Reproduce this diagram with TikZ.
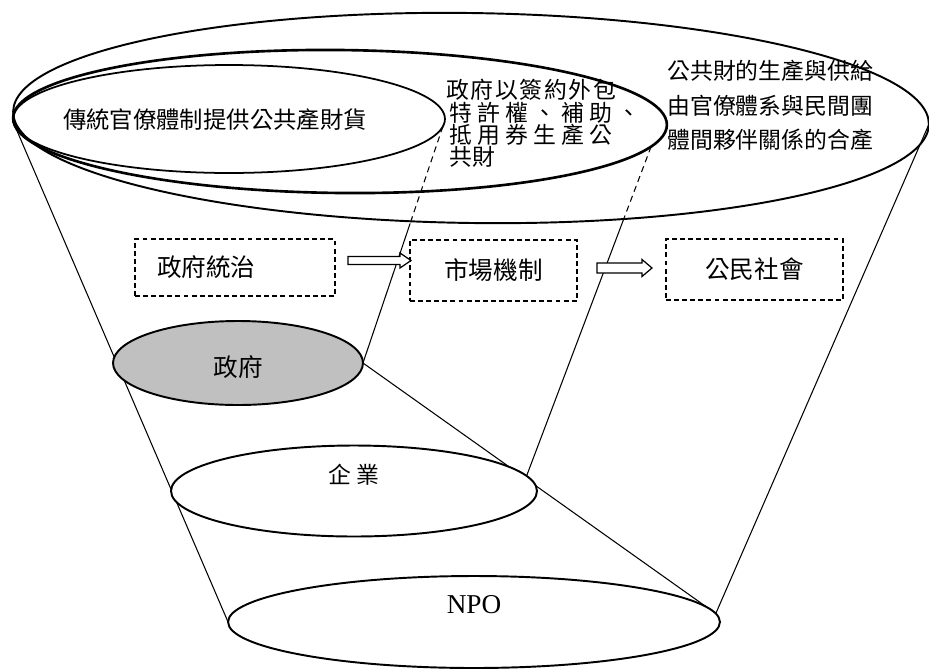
\documentclass[tikz,border=0pt]{standalone}
\usepackage{fontspec}
\setmainfont{Liberation Serif}
\newfontfamily\cjk{Noto Sans CJK TC}
\usetikzlibrary{shapes.geometric,calc,backgrounds}
\definecolor{govgray}{HTML}{C0C0C0}
\newcommand\hollowarrow[5]{%
  \draw[harrow] ($(#1)+(0,-#3)$) -- ($(#2)+(-#5,-#3)$) -- ($(#2)+(-#5,-#4)$) -- (#2)
    -- ($(#2)+(-#5,#4)$) -- ($(#2)+(-#5,#3)$) -- ($(#1)+(0,#3)$) -- cycle;}
\begin{document}
\begin{tikzpicture}[x=0.02cm,y=-0.02cm,
  ell/.style={ellipse, draw, line width=1.1pt, inner sep=0pt, outer sep=0pt},
  conn/.style={line width=0.6pt},
  dconn/.style={line width=0.6pt, dash pattern=on 3.5pt off 2.5pt},
  dbox/.style={draw, line width=0.7pt, dash pattern=on 2.8pt off 1.8pt, inner sep=0pt,
    font=\cjk\fontsize{14}{16}\selectfont},
  harrow/.style={draw, line width=0.7pt, fill=white},
  lbl/.style={font=\cjk\fontsize{13.3}{16}\selectfont, inner sep=0pt},
  lblb/.style={font=\cjk\fontsize{13}{15}\selectfont, inner sep=0pt, anchor=west},
]
\useasboundingbox (0,0) rectangle (929,670);

% upper ellipses (not filled)
\node[ell, rotate=-0.8, minimum width=18.32cm, minimum height=4.2cm] (outer) at (471,118) {};
\node[ell, line width=1.5pt, rotate=-0.6, minimum width=13.08cm, minimum height=2.86cm] (mid) at (340,121.5) {};
\node[ell, line width=1pt, minimum width=8.64cm, minimum height=2.16cm] (inner) at (229,119) {};

% lower ellipses (filled)
\node[ell, fill=govgray, minimum width=5cm, minimum height=1.68cm] (gov) at (238,363) {};
\node[ell, fill=white, minimum width=7.32cm, minimum height=1.82cm] (ent) at (354,491) {};
\node[ell, fill=white, minimum width=9.84cm, minimum height=1.84cm] (npo) at (474,622) {};

% connectors behind the ellipses
\begin{scope}[on background layer]
  \draw[conn] (inner.182) -- (npo.west);
  \coordinate (d1m) at ($(inner.-2)!0.41!(gov.east)$);
  \draw[dconn] (inner.-2) -- (d1m);
  \draw[conn] (d1m) -- (gov.east);
  \coordinate (d2m) at ($(mid.-4)!0.215!(ent.5)$);
  \draw[dconn] (mid.-4) -- (d2m);
  \draw[conn] (d2m) -- (ent.5);
  \draw[conn] (gov.east) -- (npo.2);
  \draw[conn] (outer.east) -- (npo.2);
\end{scope}

% texts in the upper ellipses
\node[lbl] (t1) at (215,120) {傳統官僚體制提供公共產財貨};
\node[lblb] (t2a) at (446,90) {\makebox[3.4cm][s]{政\hfil 府\hfil 以\hfil 簽\hfil 約\hfil 外\hfil 包}};
\node[lblb] (t2b) at (449,113) {\makebox[3.82cm][s]{特\hfil 許\hfil 權\hfil 、\hfil 補\hfil 助\hfil 、}};
\node[lblb] (t2c) at (449,135) {\makebox[3.26cm][s]{抵\hfil 用\hfil 券\hfil 生\hfil 產\hfil 公}};
\node[lblb] (t2d) at (449,157) {共財};
\node[lblb] (t3a) at (667,71) {公共財的生產與供給};
\node[lblb] (t3b) at (667,106) {由官僚體系與民間團};
\node[lblb] (t3c) at (667,140) {體間夥伴關係的合產};

% dashed boxes
\node[dbox, minimum width=4cm, minimum height=1.14cm, text width=3.12cm, inner xsep=0.44cm, align=left] (b1) at (235,267.5) {政府統治};
\node[dbox, minimum width=3.34cm, minimum height=1.22cm] (b2) at (493.5,270.5) {市場機制};
\node[dbox, minimum width=3.54cm, minimum height=1.22cm] (b3) at (754.5,269.5) {公民社會};

% hollow arrows
\coordinate (a1s) at (348,260.5);
\coordinate (a1e) at (411,260.5);
\hollowarrow{a1s}{a1e}{4}{7.5}{11}
\coordinate (a2s) at (597,268);
\coordinate (a2e) at (652,268);
\hollowarrow{a2s}{a2e}{5}{8.5}{10}

% labels of lower ellipses
\node[font=\cjk\fontsize{14}{16}\selectfont, inner sep=0pt] (govT) at (238,367) {政府};
\node[font=\cjk\fontsize{13}{15}\selectfont, inner sep=0pt] (entT) at (354,475) {企\hspace{3.4pt}業};
\node[font=\fontsize{15.5}{18}\selectfont, inner sep=0pt] (npoT) at (474,605) {NPO};
\end{tikzpicture}
\end{document}
